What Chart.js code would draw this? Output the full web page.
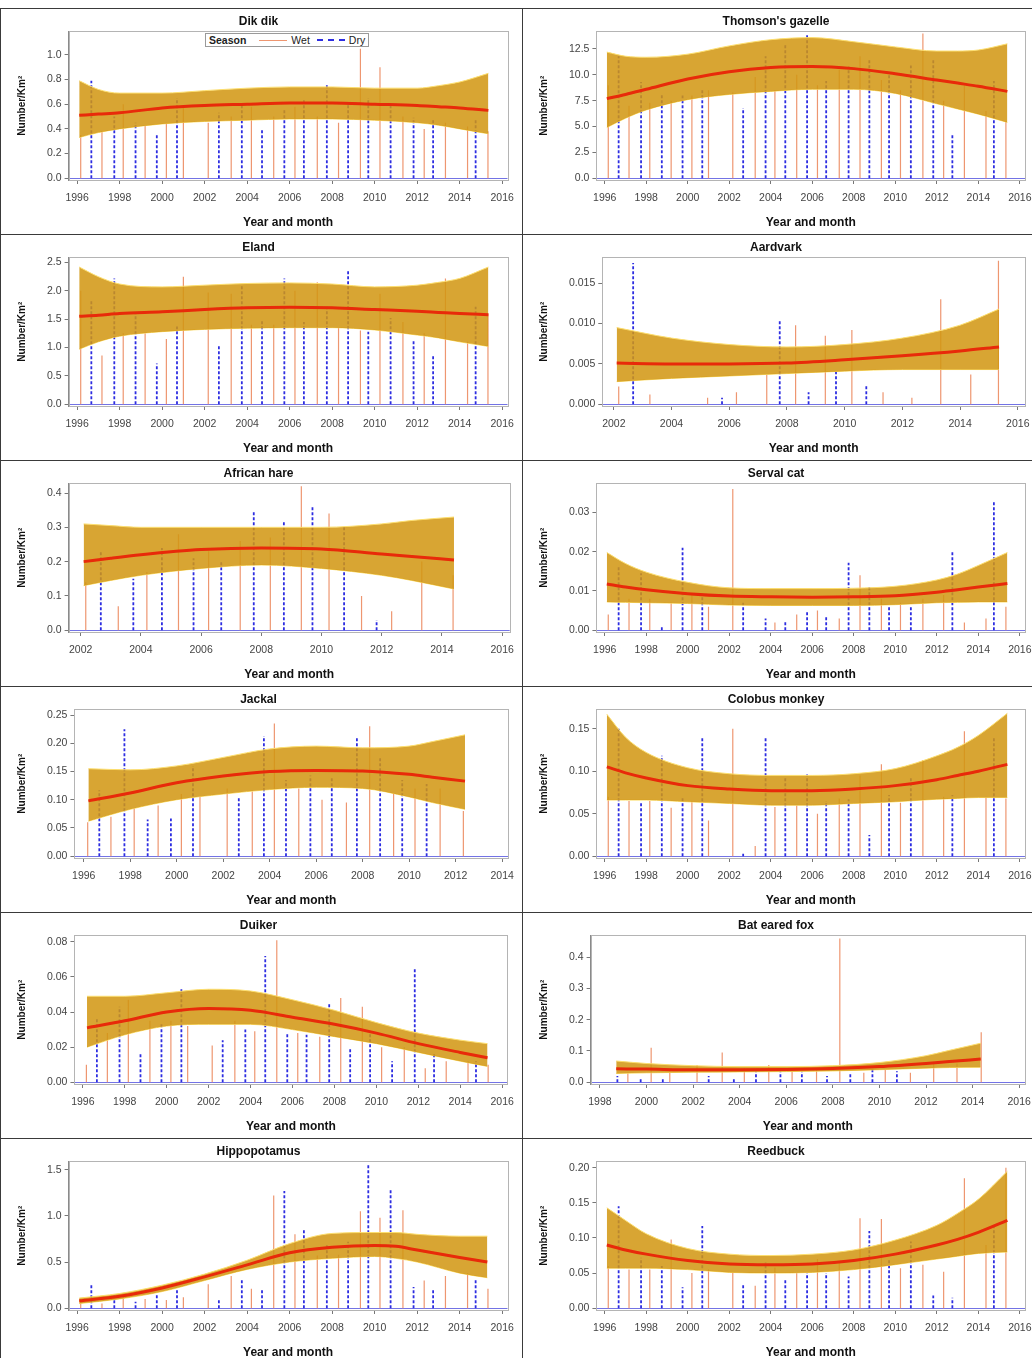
<!DOCTYPE html>
<html lang="en">
<head>
<meta charset="UTF-8" />
<title>Seasonal density trends</title>
<script src="https://cdn.jsdelivr.net/npm/chart.js"></script>
<style>
  html, body { margin: 0; padding: 0; overflow: hidden; }
  body {
    position: relative;
    width: 1032px;
    height: 1358px;
    background: #fff;
    font-family: "Liberation Sans", Arial, sans-serif;
  }
  .panel {
    position: absolute;
    box-sizing: border-box;
    border: 1px solid #3a3a3a;
    background: #fff;
  }
  .panel canvas { position: absolute; left: 0; top: 0; }
  .legend {
    position: absolute;
    left: 204px;
    top: 24px;
    height: 12px;
    padding: 0 3px;
    border: 1px solid #9a9a9a;
    background: #fff;
    display: flex;
    align-items: center;
    gap: 4px;
    font-size: 10.5px;
    color: #222;
    white-space: nowrap;
  }
  .legend b { margin-right: 9px; }
  .legend .wet { display: inline-block; width: 28px; border-top: 1px solid rgb(238,150,112); }
  .legend .dry { display: inline-block; width: 28px; border-top: 2px dashed rgb(45,45,225); margin-left: 3px; }
</style>
</head>
<body>

<script>
  // survey dates (decimal year), shared by all species
  const wetDates = [1996.17, 1997.17, 1998.17, 1999.2, 2000.2, 2001.0, 2002.17, 2003.25, 2004.2, 2005.25,
                    2006.25, 2007.3, 2008.3, 2009.33, 2010.25, 2011.33, 2012.33, 2013.33, 2014.37, 2015.33];
  const dryDates = [1996.67, 1997.75, 1998.75, 1999.75, 2000.7, 2002.67, 2003.75, 2004.7, 2005.75, 2006.67,
                    2007.75, 2008.75, 2009.7, 2010.75, 2011.83, 2012.75, 2014.75];

  // x tick labels
  const years96to16 = [1996, 1998, 2000, 2002, 2004, 2006, 2008, 2010, 2012, 2014, 2016];
  const years02to16 = [2002, 2004, 2006, 2008, 2010, 2012, 2014, 2016];
  const years96to14 = [1996, 1998, 2000, 2002, 2004, 2006, 2008, 2010, 2012, 2014];
  const years98to16 = [1998, 2000, 2002, 2004, 2006, 2008, 2010, 2012, 2014, 2016];

  // Dik dik
  const dikdikWet = [0.35, 0.38, 0.60, 0.43, 0.45, 0.57, 0.45, 0.50, 0.58, 0.50, 0.58, 0.50, 0.45, 1.05, 0.90, 0.50, 0.40, 0.45, 0.42, 0.38];
  const dikdikDry = [0.79, 0.50, 0.45, 0.35, 0.65, 0.53, 0.61, 0.39, 0.56, 0.64, 0.76, 0.60, 0.65, 0.61, 0.49, 0.48, 0.47];
  const dikdikFitX = [1996.1, 1997, 1998, 2000, 2002, 2004, 2006, 2008, 2010, 2012, 2013, 2014, 2015.35];
  const dikdikFit = [0.51, 0.52, 0.53, 0.57, 0.59, 0.60, 0.61, 0.61, 0.60, 0.59, 0.58, 0.57, 0.55];
  const dikdikHigh = [0.79, 0.72, 0.69, 0.69, 0.71, 0.73, 0.74, 0.74, 0.73, 0.73, 0.75, 0.78, 0.85];
  const dikdikLow = [0.33, 0.37, 0.40, 0.44, 0.46, 0.47, 0.48, 0.48, 0.47, 0.45, 0.43, 0.40, 0.36];
  const dikdikYTicks = [0, 0.2, 0.4, 0.6, 0.8, 1.0];

  // Thomson's gazelle
  const gazelleWet = [9.0, 7.0, 7.3, 7.5, 8.0, 8.5, 8.3, 9.8, 8.5, 10.0, 9.0, 10.5, 11.8, 9.5, 8.5, 14.0, 7.5, 9.0, 6.5, 5.5];
  const gazelleDry = [11.8, 9.3, 8.1, 8.0, 8.5, 6.8, 11.8, 13.0, 13.9, 9.4, 10.8, 11.6, 10.0, 10.9, 11.6, 4.3, 9.4];
  const gazelleFitX = [1996.1, 1997, 1998, 2000, 2002, 2004, 2006, 2008, 2010, 2012, 2013, 2014, 2015.4];
  const gazelleFit = [7.7, 8.1, 8.6, 9.6, 10.3, 10.7, 10.8, 10.6, 10.1, 9.5, 9.2, 8.9, 8.4];
  const gazelleHigh = [12.2, 11.8, 11.7, 12.0, 12.8, 13.4, 13.6, 13.2, 12.7, 12.3, 12.3, 12.4, 13.0];
  const gazelleLow = [4.9, 5.8, 6.6, 7.6, 8.1, 8.4, 8.6, 8.6, 8.2, 7.2, 6.7, 6.2, 5.4];
  const gazelleYTicks = [0, 2.5, 5, 7.5, 10, 12.5];

  // Eland
  const elandWet = [2.0, 0.86, 1.25, 1.25, 1.15, 2.25, 1.97, 1.95, 1.40, 1.40, 2.0, 2.15, 1.35, 1.30, 1.95, 1.45, 1.25, 2.22, 1.10, 1.60];
  const elandDry = [1.85, 2.22, 1.60, 0.72, 1.37, 1.06, 2.10, 1.50, 2.22, 1.45, 1.72, 2.38, 1.28, 1.52, 1.12, 0.87, 1.72];
  const elandFitX = [1996.1, 1997, 1998, 2000, 2002, 2004, 2006, 2008, 2010, 2012, 2013, 2014, 2015.35];
  const elandFit = [1.55, 1.57, 1.60, 1.63, 1.67, 1.70, 1.71, 1.70, 1.67, 1.64, 1.62, 1.60, 1.58];
  const elandHigh = [2.42, 2.25, 2.12, 2.07, 2.10, 2.13, 2.14, 2.12, 2.07, 2.10, 2.15, 2.22, 2.42];
  const elandLow = [0.97, 1.10, 1.20, 1.28, 1.32, 1.34, 1.35, 1.35, 1.31, 1.22, 1.17, 1.10, 1.02];
  const elandYTicks = [0, 0.5, 1.0, 1.5, 2.0, 2.5];

  // Aardvark
  const aardvarkWet = [null, null, null, null, null, null, 0.0022, 0.0012, null, 0.0008, 0.0015, 0.0037, 0.0098, 0.0085, 0.0092, 0.0015, 0.0008, 0.0130, 0.0037, 0.0178];
  const aardvarkDry = [null, null, null, null, null, 0.0175, null, null, 0.0008, null, 0.0105, 0.0015, 0.0043, 0.0023, null, null, null];
  const aardvarkFitX = [2002.1, 2004, 2006, 2008, 2010, 2012, 2014, 2015.35];
  const aardvarkFit = [0.0051, 0.0050, 0.0050, 0.0051, 0.0055, 0.0060, 0.0066, 0.0071];
  const aardvarkHigh = [0.0095, 0.0082, 0.0074, 0.0071, 0.0074, 0.0082, 0.0098, 0.0118];
  const aardvarkLow = [0.0028, 0.0032, 0.0035, 0.0038, 0.0041, 0.0043, 0.0043, 0.0043];
  const aardvarkYTicks = [0, 0.005, 0.010, 0.015];

  // African hare
  const hareWet = [null, null, null, null, null, null, 0.14, 0.07, 0.17, 0.28, 0.23, 0.26, 0.27, 0.42, 0.34, 0.10, 0.055, 0.20, 0.16, null];
  const hareDry = [null, null, null, null, null, 0.23, 0.15, 0.24, 0.21, 0.20, 0.35, 0.32, 0.36, 0.30, 0.03, null, null];
  const hareFitX = [2002.1, 2003, 2004, 2006, 2008, 2010, 2012, 2013, 2014.4];
  const hareFit = [0.20, 0.21, 0.22, 0.235, 0.24, 0.237, 0.222, 0.215, 0.205];
  const hareHigh = [0.31, 0.305, 0.30, 0.30, 0.30, 0.30, 0.31, 0.32, 0.33];
  const hareLow = [0.13, 0.145, 0.16, 0.18, 0.19, 0.18, 0.16, 0.145, 0.12];
  const hareYTicks = [0, 0.1, 0.2, 0.3, 0.4];

  // Serval cat
  const servalWet = [0.004, 0.008, 0.008, 0.007, 0.009, 0.006, 0.036, null, 0.002, 0.004, 0.005, 0.003, 0.014, 0.008, 0.007, 0.008, 0.009, 0.002, 0.003, 0.006];
  const servalDry = [0.0165, 0.0145, 0.001, 0.021, 0.009, 0.007, 0.003, 0.0025, 0.0048, 0.0035, 0.0172, 0.011, 0.006, 0.006, null, 0.020, 0.033];
  const servalFitX = [1996.1, 1997, 1998, 2000, 2002, 2004, 2006, 2008, 2010, 2012, 2013, 2014, 2015.4];
  const servalFit = [0.0118, 0.0110, 0.0103, 0.0093, 0.0087, 0.0085, 0.0084, 0.0085, 0.0088, 0.0097, 0.0103, 0.0110, 0.0119];
  const servalHigh = [0.0198, 0.0170, 0.0148, 0.0122, 0.0108, 0.0106, 0.0106, 0.0107, 0.0112, 0.0128, 0.0143, 0.0165, 0.0198];
  const servalLow = [0.0072, 0.0071, 0.0070, 0.0068, 0.0064, 0.0063, 0.0063, 0.0063, 0.0065, 0.0070, 0.0071, 0.0072, 0.0072];
  const servalYTicks = [0, 0.01, 0.02, 0.03];

  // Jackal
  const jackalWet = [0.06, 0.07, 0.085, 0.09, 0.11, 0.105, 0.12, 0.115, 0.235, 0.12, 0.10, 0.095, 0.23, 0.11, 0.12, 0.12, 0.08, null, null, null];
  const jackalDry = [0.117, 0.225, 0.065, 0.067, 0.16, 0.105, 0.213, 0.135, 0.143, 0.14, 0.21, 0.175, 0.135, 0.128, null, null, null];
  const jackalFitX = [1996.2, 1998, 2000, 2002, 2004, 2006, 2008, 2010, 2011, 2012.4];
  const jackalFit = [0.098, 0.112, 0.130, 0.142, 0.150, 0.152, 0.151, 0.145, 0.140, 0.133];
  const jackalHigh = [0.155, 0.153, 0.160, 0.175, 0.190, 0.195, 0.192, 0.195, 0.203, 0.215];
  const jackalLow = [0.062, 0.083, 0.100, 0.110, 0.118, 0.122, 0.120, 0.105, 0.095, 0.083];
  const jackalYTicks = [0, 0.05, 0.10, 0.15, 0.20, 0.25];

  // Colobus monkey
  const colobusWet = [0.07, 0.065, 0.065, 0.057, 0.065, 0.042, 0.15, 0.012, 0.058, 0.06, 0.05, 0.068, 0.095, 0.108, 0.063, 0.113, 0.07, 0.147, 0.07, 0.068];
  const colobusDry = [0.15, 0.064, 0.118, 0.069, 0.141, 0.003, 0.141, 0.092, 0.096, 0.065, 0.067, 0.025, 0.072, 0.094, null, 0.072, 0.14];
  const colobusFitX = [1996.1, 1997, 1998, 2000, 2002, 2004, 2006, 2008, 2010, 2012, 2013, 2014, 2015.4];
  const colobusFit = [0.105, 0.098, 0.092, 0.083, 0.079, 0.077, 0.077, 0.079, 0.083, 0.090, 0.095, 0.100, 0.108];
  const colobusHigh = [0.167, 0.140, 0.122, 0.104, 0.097, 0.095, 0.095, 0.097, 0.103, 0.118, 0.128, 0.142, 0.168];
  const colobusLow = [0.066, 0.066, 0.066, 0.064, 0.062, 0.060, 0.060, 0.062, 0.064, 0.067, 0.068, 0.069, 0.069];
  const colobusYTicks = [0, 0.05, 0.10, 0.15];

  // Duiker
  const duikerWet = [0.010, 0.028, 0.047, 0.035, 0.035, 0.032, 0.021, 0.035, 0.029, 0.081, 0.028, 0.026, 0.048, 0.043, 0.020, 0.020, 0.008, 0.012, 0.012, 0.010];
  const duikerDry = [0.036, 0.043, 0.016, 0.033, 0.054, 0.024, 0.030, 0.072, 0.028, 0.027, 0.045, 0.019, 0.028, 0.012, 0.065, 0.016, 0.012];
  const duikerFitX = [1996.2, 1998, 2000, 2002, 2004, 2006, 2008, 2010, 2012, 2014, 2015.3];
  const duikerFit = [0.031, 0.035, 0.040, 0.042, 0.041, 0.037, 0.033, 0.028, 0.022, 0.017, 0.014];
  const duikerHigh = [0.049, 0.049, 0.051, 0.053, 0.052, 0.047, 0.041, 0.034, 0.028, 0.024, 0.022];
  const duikerLow = [0.020, 0.027, 0.032, 0.033, 0.033, 0.030, 0.026, 0.022, 0.017, 0.012, 0.009];
  const duikerYTicks = [0, 0.02, 0.04, 0.06, 0.08];

  // Bat eared fox
  const foxWet = [null, null, null, 0.03, 0.11, 0.035, 0.055, 0.095, 0.045, 0.055, 0.04, 0.04, 0.46, 0.03, 0.04, 0.03, 0.06, 0.06, 0.16, null];
  const foxDry = [null, null, 0.02, 0.015, 0.012, 0.02, 0.015, 0.035, 0.04, 0.035, 0.02, 0.03, 0.045, 0.035, null, null, null];
  const foxFitX = [1998.7, 2000, 2002, 2004, 2006, 2008, 2010, 2012, 2013, 2014.35];
  const foxFit = [0.043, 0.042, 0.040, 0.040, 0.041, 0.044, 0.050, 0.060, 0.066, 0.074];
  const foxHigh = [0.068, 0.060, 0.053, 0.050, 0.050, 0.053, 0.063, 0.085, 0.102, 0.125];
  const foxLow = [0.028, 0.030, 0.032, 0.033, 0.034, 0.036, 0.040, 0.045, 0.047, 0.048];
  const foxYTicks = [0, 0.1, 0.2, 0.3, 0.4];

  // Hippopotamus
  const hippoWet = [0.09, 0.05, 0.13, 0.10, 0.09, 0.12, 0.26, 0.35, 0.21, 1.22, 0.80, 0.57, 0.58, 1.05, 0.98, 1.06, 0.30, 0.35, 0.38, 0.21];
  const hippoDry = [0.26, 0.14, 0.07, 0.14, 0.20, 0.09, 0.32, 0.21, 1.27, 0.85, 0.70, 0.72, 1.55, 1.30, 0.23, 0.21, 0.31];
  const hippoFitX = [1996.1, 1998, 2000, 2002, 2004, 2006, 2008, 2010, 2011, 2012, 2014, 2015.3];
  const hippoFit = [0.08, 0.13, 0.22, 0.34, 0.47, 0.60, 0.66, 0.68, 0.67, 0.63, 0.55, 0.50];
  const hippoHigh = [0.11, 0.16, 0.25, 0.37, 0.52, 0.70, 0.81, 0.82, 0.82, 0.80, 0.78, 0.78];
  const hippoLow = [0.05, 0.10, 0.18, 0.30, 0.42, 0.50, 0.54, 0.56, 0.54, 0.50, 0.38, 0.33];
  const hippoYTicks = [0, 0.5, 1.0, 1.5];

  // Reedbuck
  const reedbuckWet = [0.06, 0.055, 0.055, 0.098, 0.05, 0.055, 0.05, 0.032, 0.058, 0.05, 0.07, 0.065, 0.128, 0.127, 0.057, 0.062, 0.052, 0.185, 0.09, 0.20];
  const reedbuckDry = [0.145, 0.072, 0.06, 0.03, 0.117, 0.035, 0.065, 0.04, 0.05, 0.05, 0.045, 0.11, 0.07, 0.095, 0.018, 0.015, 0.12];
  const reedbuckFitX = [1996.1, 1997, 1998, 2000, 2002, 2004, 2006, 2008, 2010, 2012, 2013, 2014, 2015.4];
  const reedbuckFit = [0.090, 0.083, 0.077, 0.068, 0.063, 0.062, 0.063, 0.068, 0.077, 0.090, 0.098, 0.108, 0.125];
  const reedbuckHigh = [0.143, 0.125, 0.106, 0.085, 0.077, 0.075, 0.077, 0.083, 0.097, 0.118, 0.135, 0.155, 0.195];
  const reedbuckLow = [0.057, 0.057, 0.057, 0.055, 0.051, 0.050, 0.051, 0.055, 0.062, 0.070, 0.074, 0.078, 0.080];
  const reedbuckYTicks = [0, 0.05, 0.10, 0.15, 0.20];

  const panels = [
    { title: 'Dik dik', wet: dikdikWet, dry: dikdikDry, fitX: dikdikFitX, fit: dikdikFit, high: dikdikHigh, low: dikdikLow, xTicks: years96to16, yTicks: dikdikYTicks, yMax: 1.19, dec: 1, legend: true },
    { title: "Thomson's gazelle", wet: gazelleWet, dry: gazelleDry, fitX: gazelleFitX, fit: gazelleFit, high: gazelleHigh, low: gazelleLow, xTicks: years96to16, yTicks: gazelleYTicks, yMax: 14.2, dec: 1 },
    { title: 'Eland', wet: elandWet, dry: elandDry, fitX: elandFitX, fit: elandFit, high: elandHigh, low: elandLow, xTicks: years96to16, yTicks: elandYTicks, yMax: 2.59, dec: 1 },
    { title: 'Aardvark', wet: aardvarkWet, dry: aardvarkDry, fitX: aardvarkFitX, fit: aardvarkFit, high: aardvarkHigh, low: aardvarkLow, xTicks: years02to16, yTicks: aardvarkYTicks, yMax: 0.0182, dec: 3 },
    { title: 'African hare', wet: hareWet, dry: hareDry, fitX: hareFitX, fit: hareFit, high: hareHigh, low: hareLow, xTicks: years02to16, yTicks: hareYTicks, yMax: 0.428, dec: 1 },
    { title: 'Serval cat', wet: servalWet, dry: servalDry, fitX: servalFitX, fit: servalFit, high: servalHigh, low: servalLow, xTicks: years96to16, yTicks: servalYTicks, yMax: 0.0374, dec: 2 },
    { title: 'Jackal', wet: jackalWet, dry: jackalDry, fitX: jackalFitX, fit: jackalFit, high: jackalHigh, low: jackalLow, xTicks: years96to14, yTicks: jackalYTicks, yMax: 0.26, dec: 2 },
    { title: 'Colobus monkey', wet: colobusWet, dry: colobusDry, fitX: colobusFitX, fit: colobusFit, high: colobusHigh, low: colobusLow, xTicks: years96to16, yTicks: colobusYTicks, yMax: 0.1726, dec: 2 },
    { title: 'Duiker', wet: duikerWet, dry: duikerDry, fitX: duikerFitX, fit: duikerFit, high: duikerHigh, low: duikerLow, xTicks: years96to16, yTicks: duikerYTicks, yMax: 0.0837, dec: 2 },
    { title: 'Bat eared fox', wet: foxWet, dry: foxDry, fitX: foxFitX, fit: foxFit, high: foxHigh, low: foxLow, xTicks: years98to16, yTicks: foxYTicks, yMax: 0.47, dec: 1 },
    { title: 'Hippopotamus', wet: hippoWet, dry: hippoDry, fitX: hippoFitX, fit: hippoFit, high: hippoHigh, low: hippoLow, xTicks: years96to16, yTicks: hippoYTicks, yMax: 1.59, dec: 1 },
    { title: 'Reedbuck', wet: reedbuckWet, dry: reedbuckDry, fitX: reedbuckFitX, fit: reedbuckFit, high: reedbuckHigh, low: reedbuckLow, xTicks: years96to16, yTicks: reedbuckYTicks, yMax: 0.209, dec: 2 }
  ];

  const FONT = '"Liberation Sans", Arial, sans-serif';
  Chart.defaults.font.family = FONT;

  // one vertical needle per survey: (x,0) -> (x,v), then a gap
  function needles(dates, values) {
    const pts = [];
    dates.forEach((x, i) => {
      if (values[i] == null) return;
      pts.push({ x, y: 0 }, { x, y: values[i] }, { x, y: null });
    });
    return pts;
  }

  // light grey box round the plot area
  const framePlugin = {
    id: 'frame',
    afterDraw(chart) {
      const { ctx, chartArea: a } = chart;
      ctx.save();
      ctx.strokeStyle = '#b4b4b4';
      ctx.lineWidth = 1;
      ctx.strokeRect(Math.round(a.left) + 0.5, Math.round(a.top) + 0.5, Math.round(a.width), Math.round(a.height));
      ctx.restore();
    }
  };

  function makeChart(p, i) {
    const col = i % 2, row = Math.floor(i / 2);
    const w = 523;
    const h = 227;
    const box = document.createElement('div');
    box.className = 'panel';
    box.style.left = (col === 0 ? 0 : 522) + 'px';
    box.style.top = (8 + row * 226) + 'px';
    box.style.width = w + 'px';
    box.style.height = h + 'px';
    const canvas = document.createElement('canvas');
    canvas.width = w - 2;
    canvas.height = h - 2;
    box.appendChild(canvas);
    if (p.legend) {
      const lg = document.createElement('div');
      lg.className = 'legend';
      lg.innerHTML = '<b>Season</b><span class="wet"></span><span>Wet</span><span class="dry"></span><span>Dry</span>';
      box.appendChild(lg);
    }
    document.body.appendChild(box);

    const curve = ys => p.fitX.map((x, k) => ({ x, y: ys[k] }));
    const xFirst = p.xTicks[0], xLast = p.xTicks[p.xTicks.length - 1];

    new Chart(canvas, {
      type: 'line',
      data: {
        datasets: [
          { label: 'Fit', data: curve(p.fit), borderColor: 'rgb(232,42,10)', borderWidth: 3,
            pointRadius: 0, cubicInterpolationMode: 'monotone', fill: false },
          { label: 'Upper', data: curve(p.high), borderColor: 'rgb(252,222,110)', borderWidth: 1,
            backgroundColor: 'rgba(210,150,18,0.86)', fill: '+1', pointRadius: 0, cubicInterpolationMode: 'monotone' },
          { label: 'Lower', data: curve(p.low), borderColor: 'rgb(252,222,110)', borderWidth: 1,
            pointRadius: 0, cubicInterpolationMode: 'monotone', fill: false },
          { label: 'Dry', data: needles(dryDates, p.dry), borderColor: 'rgb(45,45,225)', borderWidth: 1.8,
            borderDash: [3, 2], pointRadius: 0, fill: false },
          { label: 'Wet', data: needles(wetDates, p.wet), borderColor: 'rgb(238,150,112)', borderWidth: 1.2,
            pointRadius: 0, fill: false }
        ]
      },
      options: {
        responsive: false,
        animation: false,
        events: [],
        layout: { padding: { top: 0, right: col === 0 ? 10 : 19, bottom: 4, left: 4 } },
        plugins: {
          legend: { display: false },
          tooltip: { enabled: false },
          title: {
            display: true, text: p.title, color: '#111',
            font: { size: 12, weight: 'bold' }, padding: { top: 5, bottom: 3 }
          }
        },
        scales: {
          x: {
            type: 'linear',
            min: xFirst - 0.4,
            max: xLast + 0.25,
            afterBuildTicks: s => { s.ticks = p.xTicks.map(v => ({ value: v })); },
            ticks: { color: '#444', font: { size: 10.5 }, padding: 8, maxRotation: 0, autoSkip: false,
                     callback: v => String(v) },
            grid: { drawOnChartArea: false, color: '#777', tickLength: 4 },
            border: { color: '#8a8a8a' },
            title: { display: true, text: 'Year and month', color: '#111',
                     font: { size: 12, weight: 'bold' }, padding: { top: 3, bottom: 0 } }
          },
          y: {
            min: -0.012 * p.yMax,
            max: p.yMax,
            afterBuildTicks: s => { s.ticks = p.yTicks.map(v => ({ value: v })); },
            ticks: { color: '#444', font: { size: 10.5 }, padding: 3, callback: v => v.toFixed(p.dec) },
            grid: {
              color: c => (c.tick && c.tick.value === 0) ? 'rgba(90,90,225,0.85)' : 'rgba(0,0,0,0)',
              tickColor: '#777', tickLength: 4
            },
            border: { color: '#8a8a8a' },
            title: { display: true, text: 'Number/Km²', color: '#111',
                     font: { size: 10, weight: 'bold' }, padding: { top: 11, bottom: 16 } }
          }
        }
      },
      plugins: [framePlugin]
    });
  }

  panels.forEach(makeChart);
</script>

</body>
</html>
